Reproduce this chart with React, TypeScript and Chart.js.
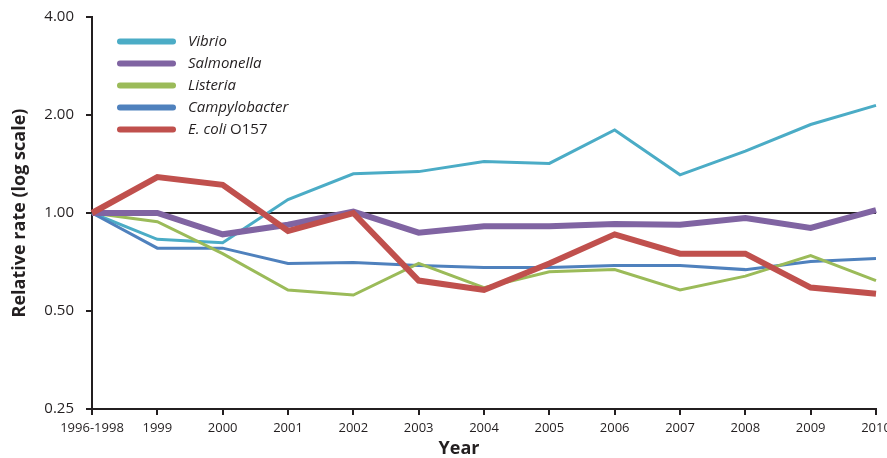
import React, { useEffect, useRef } from "react";
import { Chart, registerables } from "chart.js";
Chart.register(...registerables);

const categories = ["1996-1998", "1999", "2000", "2001", "2002", "2003", "2004", "2005", "2006", "2007", "2008", "2009", "2010"];
const vibrio = [1.0, 0.83, 0.81, 1.1, 1.32, 1.34, 1.44, 1.42, 1.8, 1.31, 1.55, 1.87, 2.14];
const salmonella = [1.0, 1.0, 0.86, 0.92, 1.01, 0.87, 0.91, 0.91, 0.925, 0.92, 0.965, 0.9, 1.02];
const listeria = [1.0, 0.94, 0.75, 0.58, 0.56, 0.7, 0.59, 0.66, 0.67, 0.58, 0.64, 0.74, 0.62];
const campylobacter = [1.0, 0.78, 0.78, 0.7, 0.705, 0.69, 0.68, 0.68, 0.69, 0.69, 0.67, 0.71, 0.725];
const ecoli = [1.0, 1.29, 1.22, 0.88, 1.0, 0.62, 0.58, 0.7, 0.86, 0.75, 0.75, 0.59, 0.565];
const yTicks = [0.25, 0.5, 1, 2, 4];
const yTickLabels = ["0.25", "0.50", "1.00", "2.00", "4.00"];

const FONT = "'Open Sans', sans-serif";
const INK = "#231f20";

const legendItems = [
  { label: "Vibrio", suffix: "", color: "#4bacc6" },
  { label: "Salmonella", suffix: "", color: "#8064a2" },
  { label: "Listeria", suffix: "", color: "#9bbb59" },
  { label: "Campylobacter", suffix: "", color: "#4f81bd" },
  { label: "E. coli", suffix: " O157", color: "#c0504d" },
];

const overlayPlugin = {
  id: "overlay",
  beforeDatasetsDraw(chart: any) {
    const { ctx, chartArea, scales } = chart;
    const y = scales.y.getPixelForValue(1);
    ctx.save();
    ctx.strokeStyle = INK;
    ctx.lineWidth = 2;
    ctx.beginPath();
    ctx.moveTo(chartArea.left, y);
    ctx.lineTo(chartArea.right, y);
    ctx.stroke();
    ctx.restore();
  },
  afterDraw(chart: any) {
    const { ctx } = chart;
    ctx.save();
    legendItems.forEach((it, i) => {
      const cy = 41.5 + i * 22;
      ctx.strokeStyle = it.color;
      ctx.lineWidth = 6;
      ctx.lineCap = "round";
      ctx.beginPath();
      ctx.moveTo(120, cy);
      ctx.lineTo(173, cy);
      ctx.stroke();
      ctx.fillStyle = INK;
      ctx.textBaseline = "middle";
      ctx.textAlign = "left";
      ctx.font = `italic 15px ${FONT}`;
      ctx.fillText(it.label, 188, cy);
      if (it.suffix) {
        const w = ctx.measureText(it.label).width;
        ctx.font = `15px ${FONT}`;
        ctx.fillText(it.suffix, 188 + w, cy);
      }
    });
    ctx.fillStyle = INK;
    ctx.font = `bold 18px ${FONT}`;
    ctx.textAlign = "center";
    ctx.textBaseline = "middle";
    ctx.fillText("Year", 459, 449);
    ctx.restore();
  },
};

export default function App() {
  const ref = useRef<HTMLCanvasElement>(null);
  useEffect(() => {
    const mk = (label: string, data: number[], color: string, width: number, order: number) => ({
      label,
      data,
      borderColor: color,
      backgroundColor: color,
      borderWidth: width,
      pointRadius: 0,
      tension: 0,
      fill: false,
      order,
      borderJoinStyle: "miter" as const,
    });
    const chart = new Chart(ref.current!, {
      type: "line",
      data: {
        labels: categories,
        datasets: [
          mk("E. coli O157", ecoli, "#c0504d", 6, 1),
          mk("Salmonella", salmonella, "#8064a2", 6, 2),
          mk("Listeria", listeria, "#9bbb59", 3, 3),
          mk("Campylobacter", campylobacter, "#4f81bd", 3, 4),
          mk("Vibrio", vibrio, "#4bacc6", 3, 5),
        ],
      },
      options: {
        animation: false,
        responsive: false,
        devicePixelRatio: 1,
        layout: { padding: { top: 17, left: 0, right: 0, bottom: 0 } },
        plugins: { legend: { display: false }, tooltip: { enabled: false } },
        scales: {
          x: {
            type: "category",
            offset: false,
            grid: { drawOnChartArea: false, drawTicks: true, tickLength: 6, color: INK, lineWidth: 2, offset: false },
            border: { color: INK, width: 2 },
            ticks: { font: { family: FONT, size: 13 }, color: INK, padding: 5, autoSkip: false, maxRotation: 0 },
            afterFit: (s: any) => {
              s.height = 49;
              s.paddingLeft = 0;
              s.paddingRight = 11;
            },
          },
          y: {
            type: "logarithmic",
            min: 0.25,
            max: 4,
            afterBuildTicks: (s: any) => {
              s.ticks = yTicks.map((v) => ({ value: v }));
            },
            ticks: {
              callback: (_v: any, i: number) => yTickLabels[i],
              font: { family: FONT, size: 15 },
              color: INK,
              padding: 12,
              autoSkip: false,
            },
            grid: { drawOnChartArea: false, drawTicks: true, tickLength: 6, color: INK, lineWidth: 2 },
            border: { color: INK, width: 2 },
            title: {
              display: true,
              text: "Relative rate (log scale)",
              font: { family: FONT, size: 18, weight: "bold" },
              color: INK,
              padding: { top: 9, bottom: 0 },
            },
            afterFit: (s: any) => {
              s.width = 92;
              s.paddingTop = 0;
              s.paddingBottom = 0;
            },
          },
        },
      },
      plugins: [overlayPlugin],
    });
    return () => chart.destroy();
  }, []);
  return (
    <div style={{ position: "absolute", left: 0, top: 0, width: 887, height: 458, background: "#fff", overflow: "hidden" }}>
      <canvas ref={ref} width={887} height={458} />
    </div>
  );
}
